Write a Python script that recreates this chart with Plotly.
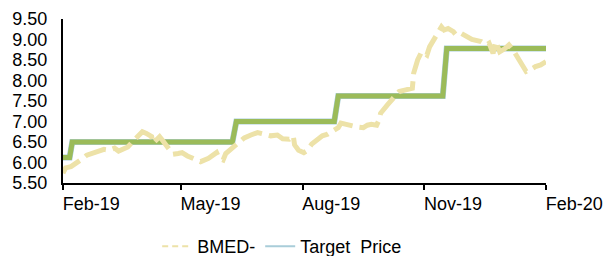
import plotly.graph_objects as go

# BMED- share price
price_dates = [
    "2019-02-01", "2019-02-03", "2019-02-07", "2019-02-10", "2019-02-12", "2019-02-14",
    "2019-02-16", "2019-02-19", "2019-02-28", "2019-03-04", "2019-03-08", "2019-03-12",
    "2019-03-15", "2019-03-19", "2019-03-22", "2019-03-26", "2019-03-30", "2019-04-02",
    "2019-04-05", "2019-04-09", "2019-04-10", "2019-04-13", "2019-04-15", "2019-04-17",
    "2019-04-21", "2019-04-25", "2019-04-29", "2019-05-02", "2019-05-06", "2019-05-10",
    "2019-05-14", "2019-05-16", "2019-05-22", "2019-05-28", "2019-05-30", "2019-06-02",
    "2019-06-04", "2019-06-07", "2019-06-11", "2019-06-13", "2019-06-18", "2019-06-23",
    "2019-06-28", "2019-07-03", "2019-07-08", "2019-07-13", "2019-07-17", "2019-07-22",
    "2019-07-25", "2019-07-26", "2019-07-29", "2019-08-02", "2019-08-04", "2019-08-08",
    "2019-08-13", "2019-08-16", "2019-08-20", "2019-08-24", "2019-08-28", "2019-08-30",
    "2019-09-05", "2019-09-11", "2019-09-16", "2019-09-19", "2019-09-22", "2019-09-26",
    "2019-09-28", "2019-09-29", "2019-10-04", "2019-10-09", "2019-10-13", "2019-10-18",
    "2019-10-23", "2019-10-24", "2019-10-27", "2019-10-30", "2019-11-03", "2019-11-05",
    "2019-11-08", "2019-11-09", "2019-11-12", "2019-11-14", "2019-11-16", "2019-11-19",
    "2019-11-23", "2019-11-25", "2019-11-29", "2019-12-01", "2019-12-07", "2019-12-14",
    "2019-12-18", "2019-12-20", "2019-12-23", "2019-12-25", "2019-12-28", "2020-01-01",
    "2020-01-04", "2020-01-07", "2020-01-10", "2020-01-13", "2020-01-17", "2020-01-20",
    "2020-01-24", "2020-01-28", "2020-02-01",
]
price_values = [
    5.74, 5.87, 5.90, 5.96, 6.02, 6.06,
    6.10, 6.18, 6.28, 6.32, 6.30, 6.35,
    6.28, 6.35, 6.38, 6.52, 6.67, 6.75,
    6.71, 6.63, 6.47, 6.59, 6.63, 6.55,
    6.35, 6.20, 6.22, 6.24, 6.16, 6.10,
    6.06, 6.02, 6.10, 6.24, 6.10, 6.06,
    6.22, 6.30, 6.39, 6.48, 6.60, 6.67,
    6.73, 6.69, 6.65, 6.67, 6.58, 6.57,
    6.65, 6.43, 6.30, 6.24, 6.28, 6.45,
    6.59, 6.65, 6.69, 6.77, 6.85, 6.96,
    6.90, 6.87, 6.85, 6.91, 6.93, 6.91,
    7.05, 7.20, 7.40, 7.57, 7.73, 7.77,
    7.81, 8.18, 8.50, 8.70, 8.62, 8.82,
    8.99, 9.07, 9.25, 9.31, 9.23, 9.27,
    9.19, 9.11, 9.15, 9.11, 9.00, 8.95,
    8.87, 8.91, 8.66, 8.95, 8.70, 8.78,
    8.87, 8.75, 8.58, 8.42, 8.22, 8.26,
    8.34, 8.38, 8.46,
]

# Target price (step line)
target_dates = [
    "2019-02-01", "2019-02-06", "2019-02-08", "2019-06-09", "2019-06-12",
    "2019-08-25", "2019-08-28", "2019-11-15", "2019-11-18", "2020-02-01",
]
target_values = [6.12, 6.12, 6.50, 6.50, 7.00, 7.00, 7.62, 7.62, 8.78, 8.78]

tick_dates = ["2019-02-01", "2019-05-01", "2019-08-01", "2019-11-01", "2020-02-01"]
tick_labels = ["Feb-19", "May-19", "Aug-19", "Nov-19", "Feb-20"]
y_ticks = [5.5, 6.0, 6.5, 7.0, 7.5, 8.0, 8.5, 9.0, 9.5]

GREEN = "#9BBB59"
YELLOW = "#EDE2A8"
BLUE = "#A9CDD9"

fig = go.Figure()
fig.add_trace(go.Scatter(
    x=target_dates, y=target_values, mode="lines",
    line=dict(color=BLUE, width=6), showlegend=False, hoverinfo="skip"))
fig.add_trace(go.Scatter(
    x=target_dates, y=target_values, mode="lines",
    line=dict(color=GREEN, width=5), showlegend=False))
fig.add_trace(go.Scatter(
    x=price_dates, y=price_values, mode="lines",
    line=dict(color=YELLOW, width=5, dash="22px,7px"), showlegend=False))
# legend entries
fig.add_trace(go.Scatter(
    x=[None], y=[None], mode="lines", name="BMED-",
    line=dict(color=YELLOW, width=2, dash="6px,4px")))
fig.add_trace(go.Scatter(
    x=[None], y=[None], mode="lines", name="Target  Price",
    line=dict(color=BLUE, width=2)))

font = dict(family="Liberation Sans, Arial, sans-serif", size=18, color="#000000")
fig.update_layout(
    width=606, height=256,
    margin=dict(l=63, r=60, t=19, b=73),
    paper_bgcolor="white", plot_bgcolor="white",
    font=font,
    showlegend=True,
    legend=dict(orientation="h", x=0.195, y=0.037, xanchor="left", yanchor="middle",
                yref="container", font=font, bgcolor="rgba(0,0,0,0)", itemwidth=30),
)
fig.update_xaxes(
    type="date", range=["2019-02-01", "2020-02-01"],
    tickvals=tick_dates, ticktext=tick_labels,
    ticks="outside", ticklen=5, tickwidth=1.5, tickcolor="black",
    ticklabelposition="outside right", ticklabelshift=-2, ticklabelstandoff=3,
    ticklabeloverflow="allow",
    showline=True, linecolor="black", linewidth=2,
    showgrid=False, zeroline=False, automargin=False,
)
fig.update_yaxes(
    range=[5.5, 9.5], tickvals=y_ticks, tickformat=".2f",
    ticks="", ticklabelstandoff=10,
    showline=True, linecolor="black", linewidth=2,
    showgrid=False, zeroline=False, automargin=False,
)
fig.write_html(
    "out.html",
    config={"displayModeBar": False},
    post_script="document.body.style.margin='0';document.body.style.overflow='hidden';",
)
